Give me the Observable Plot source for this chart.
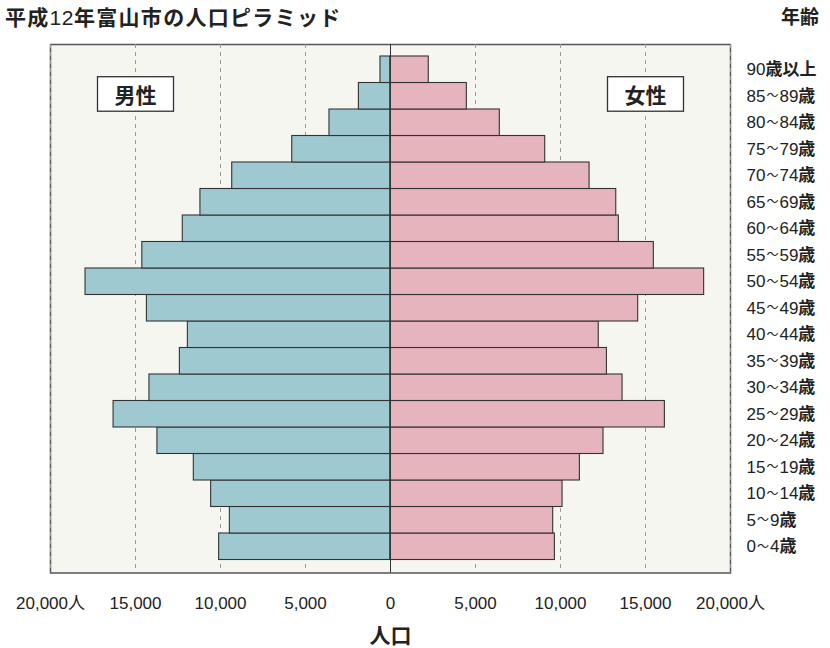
<!DOCTYPE html>
<html>
<head>
<meta charset="utf-8">
<script src="https://cdn.jsdelivr.net/npm/d3@7"></script>
<script src="https://cdn.jsdelivr.net/npm/@observablehq/plot@0.6"></script>
<style>
  body { margin: 0; background: #fff; font-family: "Liberation Sans", "Noto Sans CJK JP", sans-serif; color: #222; }
  #wrap { width: 830px; }
  #head { height: 36px; position: relative; }
  #title { position: absolute; left: 5px; top: 0; line-height: 36px; font-size: 21px; font-weight: bold; letter-spacing: 1.3px; color: #222; }
  #title .n { font-weight: normal; letter-spacing: 0.5px; }
  #agehead { position: absolute; left: 781px; top: 0; line-height: 36px; font-size: 19px; font-weight: bold; color: #222; }
  svg { display: block; }
  g[aria-label="x-axis label"] text { font-size: 21px; font-weight: bold; }
</style>
</head>
<body>
<div id="wrap">
  <div id="head">
    <div id="title">平成<span class="n">12</span>年富山市の人口ピラミッド</div>
    <div id="agehead">年齢</div>
  </div>
  <div id="chart"></div>
</div>
<script>
const ages = ["0～4歳","5～9歳","10～14歳","15～19歳","20～24歳","25～29歳","30～34歳","35～39歳","40～44歳","45～49歳","50～54歳","55～59歳","60～64歳","65～69歳","70～74歳","75～79歳","80～84歳","85～89歳","90歳以上"];
const male = [10080, 9450, 10550, 11570, 13710, 16290, 14180, 12390, 11920, 14330, 17940, 14600, 12220, 11180, 9310, 5780, 3590, 1860, 590];
const female = [9670, 9570, 10120, 11140, 12530, 16140, 13650, 12730, 12250, 14570, 18450, 15490, 13430, 13280, 11710, 9100, 6430, 4490, 2250];
const xTicks = [-20000, -15000, -10000, -5000, 0, 5000, 10000, 15000, 20000];
const xTickLabels = ["20,000人", "15,000", "10,000", "5,000", "0", "5,000", "10,000", "15,000", "20,000人"];
const genderLabels = ["男性", "女性"];
const genderX = [-15000, 15000];
const genderAge = ["85～89歳", "85～89歳"];

const rows = ages.map((a, i) => ({age: a, male: male[i], female: female[i]}));
const genders = genderLabels.map((g, i) => ({label: g, x: genderX[i], age: genderAge[i]}));
const gridTicks = xTicks.filter(d => d !== 0);

const chart = Plot.plot({
  width: 830,
  height: 612,
  marginLeft: 50,
  marginRight: 100,
  marginTop: 8,
  marginBottom: 75.5,
  style: {fontFamily: '"Liberation Sans", "Noto Sans CJK JP", sans-serif', color: "#222", background: "#fff"},
  x: {domain: [-20000, 20000]},
  y: {domain: ages.slice().reverse(), padding: 0, round: false, insetTop: 12, insetBottom: 13},
  marks: [
    Plot.frame({fill: "#f6f6f1", stroke: "#555", strokeWidth: 1.5}),
    Plot.ruleX(gridTicks, {stroke: "#9a9a9a", strokeDasharray: "4,4", strokeWidth: 1}),
    Plot.barX(rows, {y: "age", x1: 0, x2: d => -d.male, fill: "#9fc9d1", stroke: "#333", strokeWidth: 1.1}),
    Plot.barX(rows, {y: "age", x1: 0, x2: d => d.female, fill: "#e6b4bd", stroke: "#333", strokeWidth: 1.1}),
    Plot.ruleX([0], {stroke: "#333", strokeWidth: 1}),
    Plot.text(genders, {x: "x", y: "age", text: "label", fontSize: 21, fontWeight: "bold", fill: "#222", fontFamily: '"Noto Sans CJK JP", sans-serif'}),
    Plot.axisX(xTicks, {
      tickSize: 0, tickPadding: 24, fontSize: 17,
      tickFormat: d => xTickLabels[xTicks.indexOf(d)],
      label: "人口", labelAnchor: "center", labelOffset: 70, labelArrow: "none"
    }),
    Plot.axisY({anchor: "right", tickSize: 0, tickPadding: 16, textAnchor: "start", fontSize: 17, label: null})
  ]
});
document.getElementById("chart").appendChild(chart);

// mixed styling for age labels: tilde smaller, 歳 part in bold
d3.select(chart).selectAll('g[aria-label="y-axis tick label"] text').each(function() {
  const t = d3.select(this);
  const s = this.textContent;
  const m = s.match(/^(.*?)(歳.*)$/);
  if (!m) return;
  t.text(null);
  const parts = m[1].split("～");
  t.append("tspan").text(parts[0]);
  if (parts.length > 1) {
    t.append("tspan").attr("font-size", 12).attr("dx", 1).attr("dy", -1.5).text("～");
    t.append("tspan").attr("dx", 1).attr("dy", 1.5).text(parts[1]);
  }
  t.append("tspan").attr("font-weight", "bold").text(m[2]);
});

// white boxes behind gender labels (same transform as the text)
d3.select(chart).selectAll("text").filter(function() {
  return genderLabels.includes(this.textContent);
}).each(function() {
  const b = this.getBBox();
  const cx = b.x + b.width / 2, cy = b.y + b.height / 2;
  const w = 76, h = 34.5;
  const rect = document.createElementNS("http://www.w3.org/2000/svg", "rect");
  this.parentNode.insertBefore(rect, this);
  const tr = this.getAttribute("transform");
  d3.select(rect)
    .attr("x", cx - w / 2).attr("y", cy - h / 2)
    .attr("width", w).attr("height", h)
    .attr("transform", tr)
    .attr("fill", "#fff").attr("stroke", "#333").attr("stroke-width", 1.3);
});
</script>
</body>
</html>
